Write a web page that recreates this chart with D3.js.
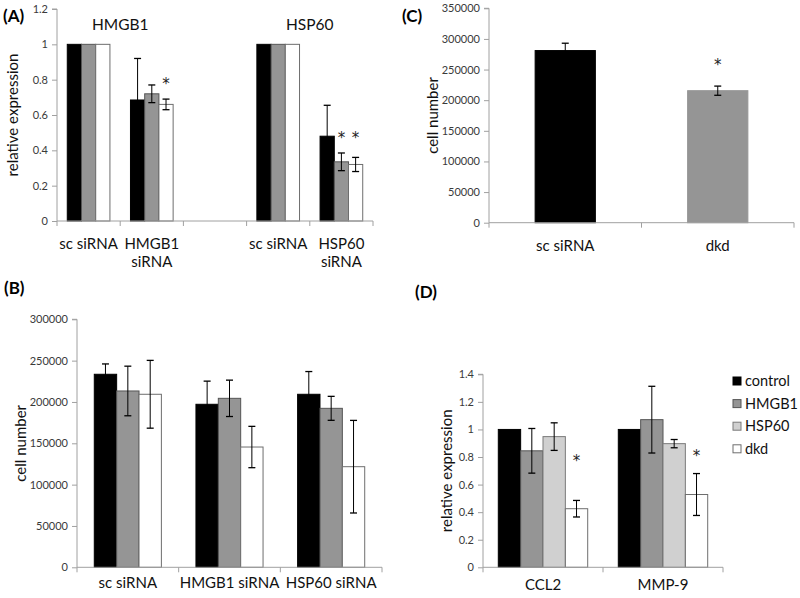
<!DOCTYPE html>
<html><head><meta charset="utf-8">
<script src="https://cdn.jsdelivr.net/npm/d3@7"></script>
<style>body{margin:0;background:#fff}svg{display:block}text{font-family:Lato,"Open Sans",sans-serif}</style>
</head><body><svg id="c" width="800" height="598"></svg>
<script>
// ---------- Data ----------
// Panel A
const aCategories = ["sc siRNA", "HMGB1|siRNA", "", "sc siRNA ", "HSP60|siRNA"];
const aSeries = ["s1", "s2", "s3"];
const aValues = [[1,1,1],[0.685,0.72,0.66],[null,null,null],[1,1,1],[0.48,0.335,0.32]];
const aErrors = [[0,0,0],[0.235,0.05,0.03],[0,0,0],[0,0,0],[0.175,0.05,0.04]];
const aStars  = [[null,null,null],[null,null,0.80],[null,null,null],[null,null,null],[null,0.49,0.49]];
const aTicks = [0,0.2,0.4,0.6,0.8,1,1.2];
const aGroupTitles = [{name:"HMGB1", cat:0.5},{name:"HSP60", cat:3.5}];
// Panel B
const bCategories = ["sc siRNA","HMGB1 siRNA","HSP60 siRNA"];
const bValues = [[233500,213300,209300],[197200,204400,145500],[209300,192300,121700]];
const bErrors = [[12500,30000,41000],[28000,22000,25000],[27500,14500,56000]];
const bTicks = [0,50000,100000,150000,200000,250000,300000];
// Panel C
const cCategories = ["sc siRNA","dkd"];
const cValues = [281000,215500];
const cErrors = [12000,7500];
const cStars = [null,264000];
const cTicks = [0,50000,100000,150000,200000,250000,300000,350000];
// Panel D
const dCategories = ["CCL2","MMP-9"];
const dSeries = ["control","HMGB1","HSP60","dkd"];
const dValues = [[1,0.845,0.948,0.425],[1,1.071,0.897,0.528]];
const dErrors = [[0,0.162,0.10,0.06],[0,0.242,0.03,0.152]];
const dStars  = [[null,null,null,0.80],[null,null,null,0.84]];
const dTicks = [0,0.2,0.4,0.6,0.8,1,1.2,1.4];

// ---------- Styles ----------
const fills4 = ["#000000","#959595","#d0d0d0","#ffffff"];
const strokes4 = ["#000000","#555555","#7a7a7a","#6e6e6e"];
const fills3 = ["#000000","#959595","#ffffff"];
const strokes3 = ["#000000","#555555","#6e6e6e"];
const cFills = ["#000000","#959595"];
const axisColor = "#a0a0a0";
const tickTextColor = "#3a3a3a";

const svg = d3.select("#c");

function panel(opt){
  const g = svg.append("g");
  const x = d3.scaleBand().domain(opt.categories.map((c,i)=>i)).range([opt.x0,opt.x1]).padding(0);
  const y = d3.scaleLinear().domain([0,opt.ymax]).range([opt.y0,opt.y1]);
  const step = x.step();
  const groupW = step*opt.groupFrac;
  const x1 = d3.scaleBand().domain(opt.series.map((s,i)=>i)).range([(step-groupW)/2,(step+groupW)/2]).padding(0);

  // y axis
  const ya = d3.axisLeft(y).tickValues(opt.ticks).tickSize(5).tickPadding(4).tickFormat(d=>String(d));
  const yg = g.append("g").attr("transform",`translate(${opt.x0},0)`).call(ya);
  yg.select(".domain").attr("stroke",axisColor).attr("d",`M-5,${y(opt.ymax)}H0V${y(0)}`);
  yg.selectAll(".tick line").attr("stroke",axisColor);
  yg.selectAll(".tick text").attr("fill",tickTextColor).style("font-size","11px").style("font-family","Lato, sans-serif");

  // bars
  opt.values.forEach((row,ci)=>{
    row.forEach((v,si)=>{
      if(v==null) return;
      const bx = x(ci)+x1(si);
      g.append("rect").attr("x",bx).attr("y",y(v)).attr("width",x1.bandwidth()).attr("height",y(0)-y(v))
        .attr("fill",opt.fill(ci,si)).attr("stroke",opt.stroke(ci,si)).attr("stroke-width",1);
      const e = opt.errors[ci][si];
      const cx = bx + x1.bandwidth()/2;
      if(e>0){
        const ec = "#000";
        g.append("line").attr("x1",cx).attr("x2",cx).attr("y1",y(v+e)).attr("y2",y(v-e)).attr("stroke",ec).attr("stroke-width",1);
        [v+e,v-e].forEach(t=>g.append("line").attr("x1",cx-3.5).attr("x2",cx+3.5).attr("y1",y(t)).attr("y2",y(t)).attr("stroke",ec).attr("stroke-width",1.3));
      }
      const s = opt.stars && opt.stars[ci][si];
      if(s!=null){
        g.append("text").attr("x",cx).attr("y",y(s)+9).attr("text-anchor","middle")
          .style("font-family","'DejaVu Sans', sans-serif").style("font-size","15px").attr("fill","#222").text("*");
      }
    });
  });

  // x axis
  g.append("line").attr("x1",opt.x0).attr("x2",opt.x1).attr("y1",y(0)).attr("y2",y(0)).attr("stroke",axisColor);
  d3.range(opt.categories.length+1).forEach(i=>{
    const tx = opt.x0 + i*step;
    g.append("line").attr("x1",tx).attr("x2",tx).attr("y1",y(0)).attr("y2",y(0)+5).attr("stroke",axisColor);
  });
  opt.categories.forEach((c,i)=>{
    const lines = c.trim().split("|");
    if(!lines[0]) return;
    const t = g.append("text").attr("text-anchor","middle").attr("x",x(i)+step/2).attr("y",y(0)+opt.labelDy)
      .style("font-size","15px").attr("fill","#111");
    lines.forEach((l,k)=>t.append("tspan").attr("x",x(i)+step/2).attr("dy",k?18:0).text(l));
  });
  // y label
  g.append("text").attr("transform",`translate(${opt.ylabX},${(y(0)+y(opt.ymax))/2}) rotate(-90)`)
    .attr("text-anchor","middle").style("font-size","15px").attr("fill","#111").text(opt.ylabel);
  // panel letter
  g.append("text").attr("x",opt.letterX).attr("y",opt.letterY).style("font-size","17px").style("font-weight","bold").attr("fill","#000").text(opt.letter);
  return {g,x,y,step};
}

// Panel A
const A = panel({categories:aCategories, series:aSeries, values:aValues, errors:aErrors, stars:aStars,
  x0:57, x1:373, y0:221, y1:9, ymax:1.2, ticks:aTicks, groupFrac:0.675,
  fill:(c,s)=>fills3[s], stroke:(c,s)=>strokes3[s],
  labelDy:28, ylabel:"relative expression", ylabX:18, letter:"(A)", letterX:3, letterY:22});
aGroupTitles.forEach(t=>{
  A.g.append("text").attr("x",57+A.step*t.cat+A.step/2).attr("y",30).attr("text-anchor","middle")
   .style("font-size","15.5px").attr("fill","#111").text(t.name);
});

// Panel B
panel({categories:bCategories, series:aSeries, values:bValues, errors:bErrors,
  x0:77, x1:382, y0:567.3, y1:319.3, ymax:300000, ticks:bTicks, groupFrac:0.66,
  fill:(c,s)=>fills3[s], stroke:(c,s)=>strokes3[s],
  labelDy:21, ylabel:"cell number", ylabX:26, letter:"(B)", letterX:4, letterY:294});

// Panel C
panel({categories:cCategories, series:["s"], values:cValues.map(v=>[v]), errors:cErrors.map(e=>[e]), stars:cStars.map(s=>[s]),
  x0:489, x1:794, y0:222.7, y1:8.3, ymax:350000, ticks:cTicks, groupFrac:0.395,
  fill:(c,s)=>cFills[c], stroke:(c,s)=>cFills[c],
  labelDy:28, ylabel:"cell number", ylabX:438, letter:"(C)", letterX:402, letterY:22});

// Panel D
panel({categories:dCategories, series:dSeries, values:dValues, errors:dErrors, stars:dStars,
  x0:483, x1:723, y0:567.3, y1:374.3, ymax:1.4, ticks:dTicks, groupFrac:0.745,
  fill:(c,s)=>fills4[s], stroke:(c,s)=>strokes4[s],
  labelDy:23, ylabel:"relative expression", ylabX:452, letter:"(D)", letterX:415, letterY:298});

// Legend for D
const leg = svg.append("g").attr("transform","translate(733,377)");
dSeries.forEach((s,i)=>{
  leg.append("rect").attr("x",0).attr("y",i*22.6).attr("width",8).attr("height",8)
    .attr("fill",fills4[i]).attr("stroke",strokes4[i]);
  leg.append("text").attr("x",12).attr("y",i*22.6+9).style("font-size","14.5px").attr("fill","#111").text(s);
});
</script></body></html>
